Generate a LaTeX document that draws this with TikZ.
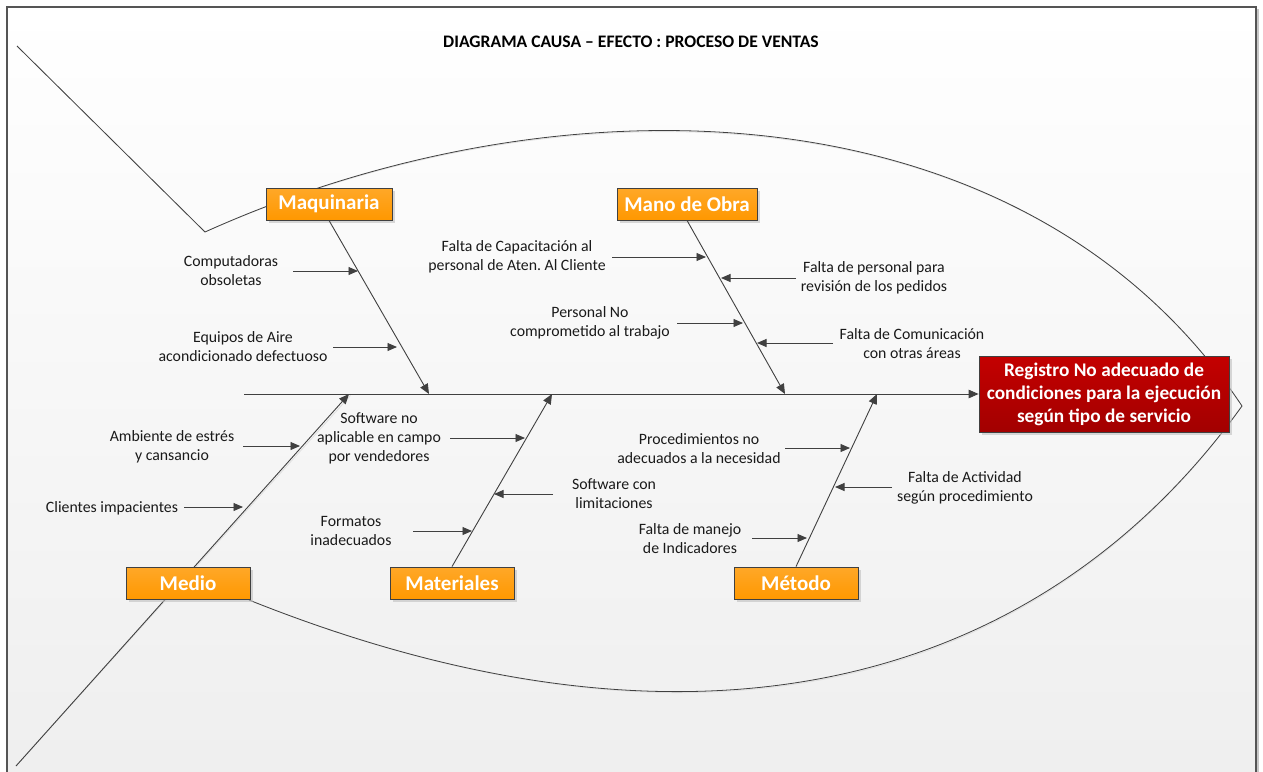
\documentclass[tikz,border=0pt]{standalone}
\usepackage{fontspec}
\setmainfont{Carlito}
\usetikzlibrary{arrows.meta,shadows}
\definecolor{linegray}{HTML}{404040}
\definecolor{framegray}{HTML}{555555}
\definecolor{orangeA}{HTML}{FFA828}
\definecolor{orangeB}{HTML}{FF9800}
\definecolor{redA}{HTML}{C40000}
\definecolor{redB}{HTML}{A20000}
\definecolor{txt}{HTML}{1A1A1A}
\frenchspacing
\begin{document}
\begin{tikzpicture}[x=1pt,y=-1pt,
  bone/.style={draw=linegray,line width=0.9pt},
  outline/.style={draw=linegray,line width=0.8pt},
  causearrow/.style={draw=linegray,line width=0.9pt,-{Triangle[length=9.5pt,width=8pt]}},
  bonearrow/.style={bone,-{Triangle[length=10pt,width=8.5pt]}},
  catbox/.style={draw=linegray,line width=0.8pt,top color=orangeA,bottom color=orangeB,
    minimum height=32pt,inner sep=0pt,text=white,
    font=\fontsize{21}{24}\selectfont\bfseries,
    drop shadow={shadow xshift=2.5pt,shadow yshift=-2.5pt,fill=black!25,opacity=0.6}},
  effectbox/.style={draw=linegray,line width=0.8pt,top color=redA,bottom color=redB,
    minimum width=250pt,minimum height=76pt,inner sep=0pt,text=white,align=center,
    font=\fontsize{19.3}{23}\selectfont\bfseries,
    drop shadow={shadow xshift=2.5pt,shadow yshift=-2.5pt,fill=black!25,opacity=0.6}},
  causetext/.style={align=center,inner sep=0pt,text=txt,font=\fontsize{15.8}{19}\selectfont},
  titletext/.style={inner sep=0pt,text=black,font=\fontsize{17.6}{20}\selectfont\bfseries}]

\useasboundingbox (0,0) rectangle (1263,771);

% page background and frame
\begin{scope}
  \clip (0,0) rectangle (1263,771);
  \fill[white] (0,0) rectangle (1263,771);
  \fill[black!22] (9,9) rectangle (1259,800);
  \shade[top color=white,bottom color=black!6.5] (7,7) rectangle (1256,790);
  \draw[framegray,line width=1.4pt] (7,7) rectangle (1256,790);
\end{scope}

\node[titletext] (title) at (631,42) {DIAGRAMA CAUSA – EFECTO : PROCESO DE VENTAS};

% fish outline, with a faint offset copy underneath
\coordinate (tailTop) at (17,46);
\coordinate (bodyTop) at (205,232);
\coordinate (head) at (1242,406);
\coordinate (bodyLow) at (249,600);
\coordinate (tailLow) at (16,766);
\draw[black!12,line width=0.8pt,shift={(1.5,1.5)}] (tailTop) -- (bodyTop) .. controls (560,72) and (1025,81) .. (head)
  .. controls (1042,684) and (699,780) .. (bodyLow);
\draw[black!12,line width=0.8pt,shift={(1.5,1.5)}] (tailLow) -- (349,394);
\draw[outline] (tailTop) -- (bodyTop) .. controls (560,72) and (1025,81) .. (head)
  .. controls (1042,684) and (699,780) .. (bodyLow);

% effect and spine
\node[effectbox] (eff) at (1104,394) {Registro No adecuado de\\condiciones para la ejecución\\según tipo de servicio};
\coordinate (spineStart) at (244,394);
\draw[bonearrow] (spineStart) -- (eff.west);

% bone end points on the spine
\coordinate (jMaq) at (429,394);
\coordinate (jMano) at (785,394);
\coordinate (jMedio) at (349,394);
\coordinate (jMat) at (552,394);
\coordinate (jMet) at (877,394);

\draw[bonearrow] (tailLow) -- (jMedio);

% category boxes
\node[catbox,minimum width=126pt] (maq) at (329,204) {Maquinaria};
\node[catbox,minimum width=140pt] (mano) at (687,204) {Mano de Obra};
\node[catbox,minimum width=124pt] (medio) at (188,583) {Medio};
\node[catbox,minimum width=124pt] (mat) at (452,583) {Materiales};
\node[catbox,minimum width=124pt] (met) at (796,583) {Método};

\draw[bonearrow] (maq.south) -- (jMaq);
\draw[bonearrow] (mano.south) -- (jMano);
\draw[bonearrow] (mat.north) -- (jMat);
\draw[bonearrow] (met.north) -- (jMet);

% causes
\node[causetext] (c1) at (231,270.5) {Computadoras\\obsoletas};
\node[causetext] (c2) at (243,346.5) {Equipos de Aire\\acondicionado defectuoso};
\node[causetext] (c3) at (517,256.5) {Falta de Capacitación al\\personal de Aten. Al Cliente};
\node[causetext] (c4) at (590,322.5) {Personal No\\comprometido al trabajo};
\node[causetext] (c5) at (874,277.5) {Falta de personal para\\revisión de los pedidos};
\node[causetext] (c6) at (912,343.5) {Falta de Comunicación\\con otras áreas};
\node[causetext] (c7) at (172,446.5) {Ambiente de estrés\\y cansancio};
\node[causetext] (c8) at (112,508) {Clientes impacientes};
\node[causetext] (c9) at (379,438) {Software no\\aplicable en campo\\por vendedores};
\node[causetext] (c10) at (614,493.5) {Software con\\limitaciones};
\node[causetext] (c11) at (351,531) {Formatos\\inadecuados};
\node[causetext] (c12) at (699,448.5) {Procedimientos no\\adecuados a la necesidad};
\node[causetext] (c13) at (965,487.5) {Falta de Actividad\\según procedimiento};
\node[causetext] (c14) at (690,539) {Falta de manejo\\de Indicadores};

% cause arrows: tail and head coordinates
\coordinate (a1s) at (293,271);  \coordinate (a1e) at (358,271);
\coordinate (a2s) at (333,347);  \coordinate (a2e) at (397,347);
\coordinate (a3s) at (612,257);  \coordinate (a3e) at (706,257);
\coordinate (a4s) at (677,323);  \coordinate (a4e) at (743,323);
\coordinate (a5s) at (796,278);  \coordinate (a5e) at (721,278);
\coordinate (a6s) at (833,343);  \coordinate (a6e) at (757,343);
\coordinate (a7s) at (243,446);  \coordinate (a7e) at (300,446);
\coordinate (a8s) at (184,507);  \coordinate (a8e) at (243,507);
\coordinate (a9s) at (450,438);  \coordinate (a9e) at (525,438);
\coordinate (a10s) at (553,494); \coordinate (a10e) at (494,494);
\coordinate (a11s) at (413,531); \coordinate (a11e) at (472,531);
\coordinate (a12s) at (785,448); \coordinate (a12e) at (850,448);
\coordinate (a13s) at (892,487); \coordinate (a13e) at (835,487);
\coordinate (a14s) at (752,538); \coordinate (a14e) at (807,538);
\foreach \i in {1,...,14} {\draw[causearrow] (a\i s) -- (a\i e);}

\end{tikzpicture}
\end{document}
